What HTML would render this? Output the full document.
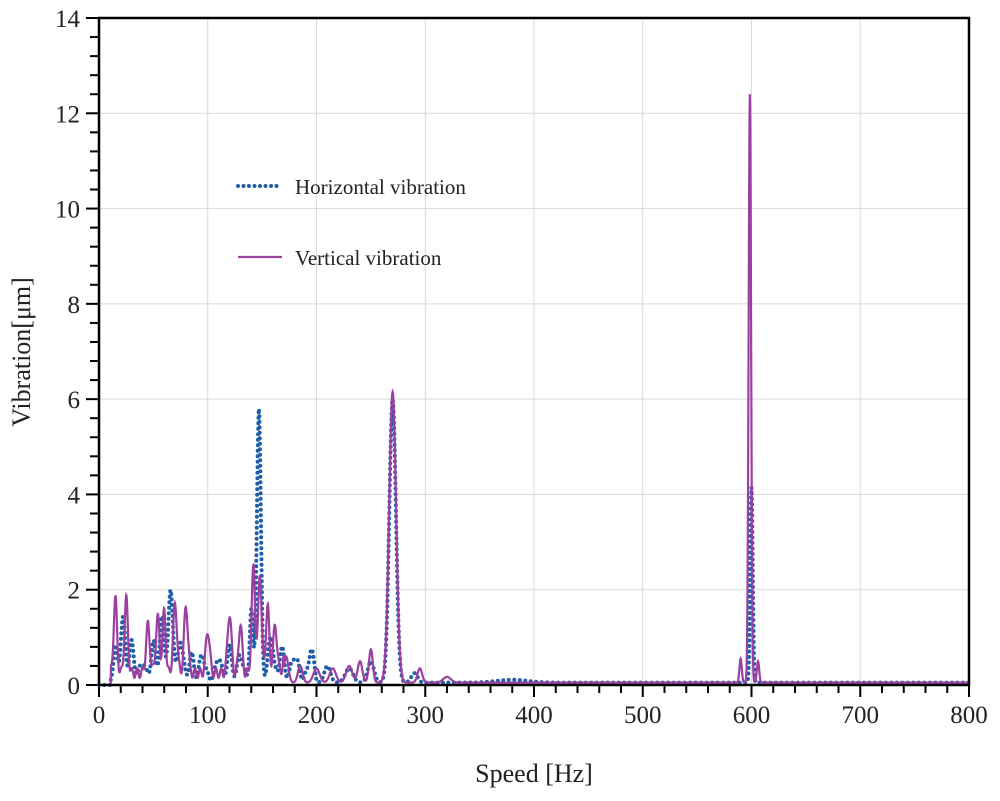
<!DOCTYPE html>
<html><head><meta charset="utf-8"><style>
body{margin:0;background:#fff}
svg text{font-family:"Liberation Serif",serif;fill:#222}
</style></head><body>
<svg id="s" width="1000" height="796" xmlns="http://www.w3.org/2000/svg">
<g id="grid" stroke="#d9d9d9" stroke-width="1"></g>
<g id="ticks" stroke="#000" stroke-width="2"></g>
<g id="labels" font-size="25"></g>
<path id="h" fill="none" stroke="#1f5ea8" stroke-width="4" stroke-linecap="round" stroke-dasharray="0 5.5"/>
<path id="v" fill="none" stroke="#9b3fa0" stroke-width="2.2"/>
<rect x="99" y="18" width="870" height="667" fill="none" stroke="#000" stroke-width="2.5"/>
<line x1="238" y1="186" x2="282" y2="186" stroke="#1f5ea8" stroke-width="4" stroke-linecap="round" stroke-dasharray="0 5.5"/>
<text x="295" y="194" font-size="21">Horizontal vibration</text>
<line x1="238" y1="257" x2="282" y2="257" stroke="#9b3fa0" stroke-width="2.2"/>
<text x="295" y="265" font-size="21">Vertical vibration</text>
<text x="534" y="782" font-size="26" text-anchor="middle">Speed [Hz]</text>
<text transform="translate(30,352) rotate(-90)" font-size="26" text-anchor="middle">Vibration[μm]</text>
</svg>
<script>
const X=f=>99+f*870/800, Y=v=>685-v*667/14;
let g='',t='',l='';
for(let i=1;i<8;i++)g+=`<line x1="${X(i*100)}" y1="18" x2="${X(i*100)}" y2="685"/>`;
for(let i=1;i<7;i++)g+=`<line x1="99" y1="${Y(i*2)}" x2="969" y2="${Y(i*2)}"/>`;
for(let i=0;i<=40;i++){let x=X(i*20);t+=`<line x1="${x}" y1="685" x2="${x}" y2="${i%5==0?697:693}"/>`;}
for(let i=0;i<=35;i++){let y=Y(i*0.4);t+=`<line x1="99" y1="${y}" x2="${i%5==0?86:90}" y2="${y}"/>`;}
for(let i=0;i<=8;i++)l+=`<text x="${X(i*100)}" y="723" text-anchor="middle">${i*100}</text>`;
for(let i=0;i<=7;i++)l+=`<text x="80" y="${Y(i*2)+9}" text-anchor="end">${i*2}</text>`;
document.getElementById('grid').innerHTML=g;document.getElementById('ticks').innerHTML=t;document.getElementById('labels').innerHTML=l;
const pk=(f,c,a,w)=>a*Math.exp(-(((f-c)/w)**2));
function V(f){if(f<11)return 0;let s=0.05;
[[15,1.55,2.2],[25,1.55,2.2],[45,1.0,2.5],[54,1.15,2.5],[60,1.3,2],[70,1.45,2.5],[80,1.4,2.5],[100,0.9,2.5],[120,1.25,2.5],[130,1.05,2.2],[142,2.2,2.3],[148,2.1,2.2],[155,1.4,2.2],[162,1.0,2.5],[172,0.55,3],[185,0.35,3],[200,0.3,4],[215,0.3,4],[230,0.35,4],[240,0.45,3],[250,0.7,2.5],[270,6.1,4.5],[295,0.3,3],[320,0.12,5],[590,0.5,1.5],[598.5,12.35,1.6],[606,0.45,1.5]].forEach(p=>s+=pk(f,...p));
if(f<170)s+=0.2+0.1*Math.sin(f*1.3);return Math.max(0,s);}
function H(f){if(f<11)return 0;let s=0.05;
[[15,0.6,2.5],[22,1.2,3],[30,0.7,3],[40,0.35,3],[50,0.7,3],[58,1.2,3],[66,1.8,3],[75,0.8,3],[85,0.45,3],[95,0.5,3],[110,0.45,3],[120,0.6,3],[130,0.5,3],[140,1.4,2],[147,5.6,2.6],[158,0.9,3],[168,0.6,3],[180,0.45,4],[195,0.6,3],[210,0.35,4],[230,0.3,5],[250,0.45,4],[270,5.95,4.3],[290,0.2,4],[380,0.06,20],[600,4.1,1.6]].forEach(p=>s+=pk(f,...p));
if(f<200)s+=0.12+0.08*Math.sin(f*0.9);return Math.max(0,s);}
let pv='',ph='';
for(let f=0;f<=800;f+=0.25){pv+=(f?'L':'M')+X(f).toFixed(2)+' '+Y(V(f)).toFixed(2);}
for(let f=0;f<=800;f+=0.5){ph+=(f?'L':'M')+X(f).toFixed(2)+' '+Y(H(f)).toFixed(2);}
document.getElementById('v').setAttribute('d',pv);document.getElementById('h').setAttribute('d',ph);
</script>
</body></html>
